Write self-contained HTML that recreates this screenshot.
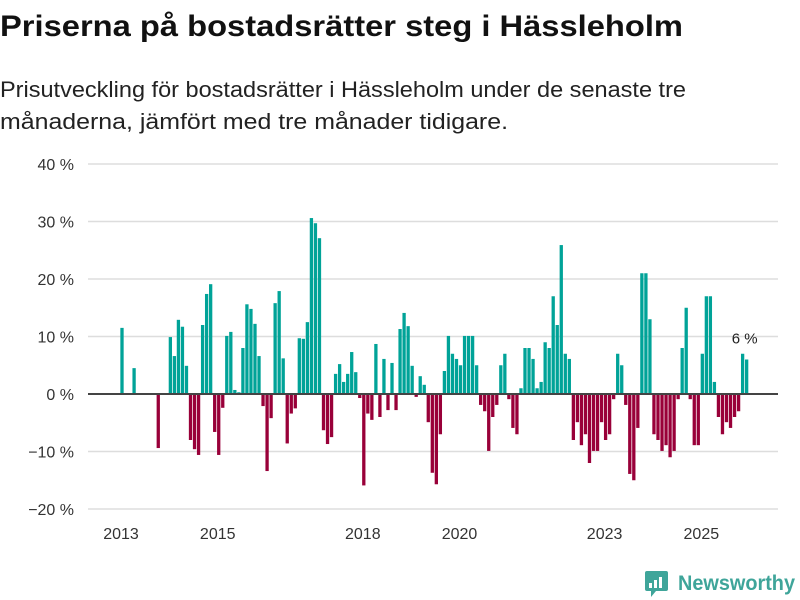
<!DOCTYPE html>
<html><head><meta charset="utf-8">
<style>
html,body{margin:0;padding:0;background:#fff;}
svg{display:block;font-family:"Liberation Sans",sans-serif;}
</style></head>
<body>
<svg id="chart" width="800" height="600" viewBox="0 0 800 600" xmlns="http://www.w3.org/2000/svg">
<text x="0" y="36" font-size="30" font-weight="bold" fill="#111" textLength="683" lengthAdjust="spacingAndGlyphs">Priserna på bostadsrätter steg i Hässleholm</text>
<text x="0" y="97" font-size="22" fill="#222" textLength="686" lengthAdjust="spacingAndGlyphs">Prisutveckling för bostadsrätter i Hässleholm under de senaste tre</text>
<text x="0" y="129" font-size="22" fill="#222" textLength="508" lengthAdjust="spacingAndGlyphs">månaderna, jämfört med tre månader tidigare.</text>
<g id="grid"></g>
<g id="bars"></g>
<g id="axes"></g>
<g>
<rect x="645" y="571" width="23" height="20" rx="2" fill="#3fa59a"/>
<polygon points="651,591 656,591 651,597" fill="#3fa59a"/>
<rect x="649" y="583" width="3" height="5" fill="#fff"/>
<rect x="654" y="580" width="3" height="8" fill="#fff"/>
<rect x="659" y="577" width="3" height="11" fill="#fff"/>
<text x="678" y="590" font-size="21" font-weight="bold" fill="#3fa59a" textLength="117" lengthAdjust="spacingAndGlyphs">Newsworthy</text>
</g>
</svg>
<script>
const yTicks = [-20, -10, 0, 10, 20, 30, 40];
const yTickLabels = ["−20 %", "−10 %", "0 %", "10 %", "20 %", "30 %", "40 %"];
const xTickYears = [2013, 2015, 2018, 2020, 2023, 2025];
const xTickIndex = [0, 24, 60, 84, 120, 144];
const values = [
11.5,null,null,4.5,null,null,null,null,null,-9.4,null,null,
9.9,6.6,12.9,11.7,4.9,-8,-9.6,-10.6,12,17.4,19.1,-6.6,
-10.6,-2.4,10.1,10.8,0.7,0.3,8,15.6,14.8,12.2,6.6,-2.1,
-13.4,-4.2,15.8,17.9,6.2,-8.6,-3.4,-2.5,9.7,9.6,12.5,30.6,
29.7,27.1,-6.3,-8.7,-7.5,3.5,5.2,2.1,3.5,7.3,3.8,-0.7,
-15.9,-3.4,-4.5,8.7,-4,6.1,-2.8,5.4,-2.8,11.3,14.1,11.8,
4.9,-0.5,3.1,1.6,-4.9,-13.7,-15.7,-7,4,10.1,7,6.1,
5,10.1,10.1,10.1,5,-1.9,-3,-9.9,-4,-1.9,5,7,
-0.9,-5.9,-7,1,8,8,6.1,1,2.1,9,8,17,
12,25.9,7,6.1,-8,-4.9,-8.9,-7,-12,-9.9,-9.9,-4.9,
-8,-7,-0.9,7,5,-1.9,-13.9,-15,-5.9,21,21,13,
-7,-8,-9.9,-8.9,-11,-9.9,-0.9,8,15,-0.9,-8.9,-8.9,
7,17,17,2.1,-4,-7,-4.9,-5.9,-4,-3,7,6
];
const lastLabel = "6 %";

const NS = "http://www.w3.org/2000/svg";
const x0 = 122, step = 4.03, barW = 3.3;
const zeroY = 394, pxPer = 5.75;
const xLeft = 88, xRight = 778;
function xScale(i){ return x0 + i*step; }
function yScale(v){ return zeroY - v*pxPer; }
function mk(tag, attrs, parent){
  const e = document.createElementNS(NS, tag);
  for (const k in attrs) e.setAttribute(k, attrs[k]);
  parent.appendChild(e);
  return e;
}
const grid = document.getElementById('grid');
const bars = document.getElementById('bars');
const axes = document.getElementById('axes');

yTicks.forEach((t, k) => {
  if (t !== 0) {
    const l = mk('line', {x1:xLeft, x2:xRight, y1:yScale(t), y2:yScale(t), stroke:'#dddddd', 'stroke-width':1.5}, grid);
    
    
  }
  const tx = mk('text', {x:74, y:yScale(t)+6, 'text-anchor':'end', 'font-size':16, fill:'#333'}, axes);
  tx.textContent = yTickLabels[k];
  
  
});

values.forEach((v, i) => {
  if (v === null) return;
  const y = yScale(Math.max(v, 0));
  const h = Math.abs(yScale(v) - zeroY);
  const r = mk('rect', {x:xScale(i)-barW/2, y:y, width:barW, height:h, fill: v >= 0 ? '#00a398' : '#990039'}, bars);
  
  
});

const zl = mk('line', {x1:xLeft, x2:xRight, y1:zeroY, y2:zeroY, stroke:'#444', 'stroke-width':2}, axes);



xTickYears.forEach((yr, k) => {
  const tx = mk('text', {x:xScale(xTickIndex[k]) - 1, y:539, 'text-anchor':'middle', 'font-size':16, fill:'#333'}, axes);
  tx.textContent = yr;
  
  
});

const li = values.length - 1;
const ann = mk('text', {x:xScale(li)-2, y:yScale(values[li]) - 16, 'text-anchor':'middle', 'font-size':15, fill:'#222'}, axes);
ann.textContent = lastLabel;


</script>
</body></html>
